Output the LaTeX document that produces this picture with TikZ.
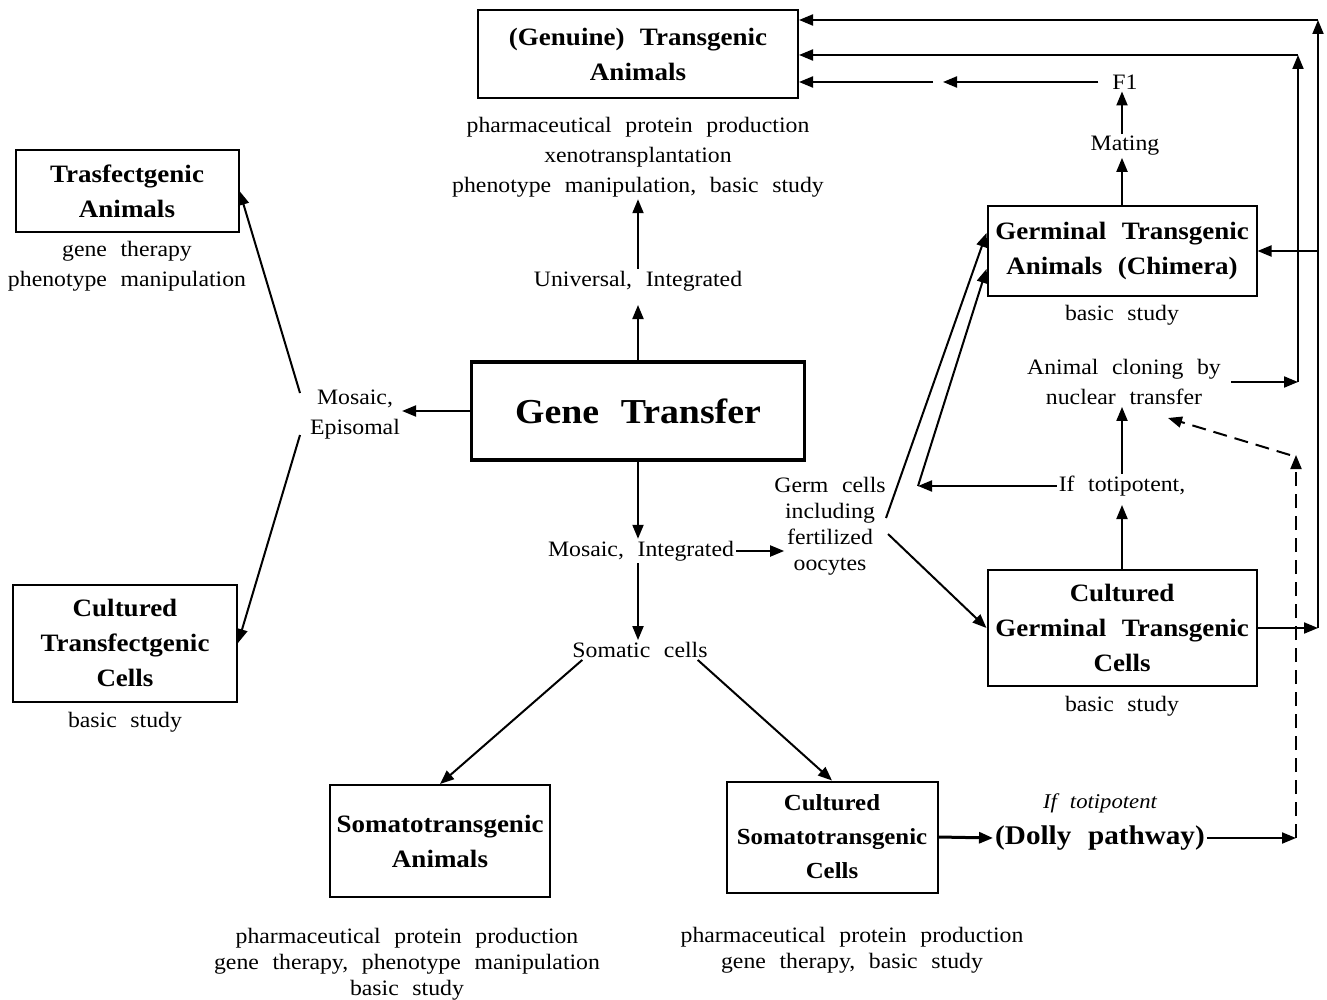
\documentclass[tikz,border=0pt]{standalone}
\usepackage{fontspec}
\setmainfont{Liberation Serif}[FakeStretch=1.08, WordSpace=2.3]
\usetikzlibrary{arrows.meta}

\tikzset{
  box/.style={draw, line width=2pt, align=center, inner sep=2pt,
    font=\bfseries\fontsize{25}{35}\selectfont},
  txt/.style={align=center, inner sep=2pt, font=\fontsize{22}{30}\selectfont},
  txtnarrow/.style={txt, font=\fontsize{22}{26}\selectfont},
  link/.style={line width=2pt, -{Triangle[length=14pt,width=11pt]}},
}

\begin{document}
\begin{tikzpicture}[x=1pt,y=-1pt]

\useasboundingbox (0,0) rectangle (1327,1000);

% boxes
\node [box, minimum width=320pt, minimum height=88pt] (genuine) at (638,54) {(Genuine) Transgenic\\Animals};
\node [box, minimum width=223pt, minimum height=82pt] (trasf) at (127,191) {Trasfectgenic\\Animals};
\node [box, minimum width=224pt, minimum height=117pt] (ctrans) at (125,643) {Cultured\\Transfectgenic\\Cells};
\node [box, line width=3.5pt, minimum width=333pt, minimum height=98pt, font=\bfseries\fontsize{35}{40}\selectfont] (gene) at (638,411) {Gene Transfer};
\node [box, minimum width=269pt, minimum height=89pt] (germ) at (1122,251) {Germinal Transgenic\\Animals (Chimera)};
\node [box, minimum width=269pt, minimum height=116pt] (cgerm) at (1122,628) {Cultured\\Germinal Transgenic\\Cells};
\node [box, minimum width=220pt, minimum height=112pt] (soma) at (440,841) {Somatotransgenic\\Animals};
\node [box, minimum width=211pt, minimum height=111pt, font=\bfseries\fontsize{23}{34}\selectfont] (csoma) at (832,837) {Cultured\\Somatotransgenic\\Cells};

% texts
\node [txt] (genuineuse) at (638,157) {pharmaceutical protein production\\xenotransplantation\\phenotype manipulation, basic study};
\node [txt] (univ) at (638,281) {Universal, Integrated};
\node [txt] (mosepi) at (355,415) {Mosaic,\\Episomal};
\node [txt] (trasfuse) at (127,266) {gene therapy\\phenotype manipulation};
\node [txt] (ctransuse) at (125,722) {basic study};
\node [txt] (mosint) at (641,551) {Mosaic, Integrated};
\node [txtnarrow] (germcells) at (830,526) {Germ cells\\including\\fertilized\\oocytes};
\node [txt] (somatic) at (640,650) {Somatic cells};
\node [txtnarrow] (somause) at (407,964) {pharmaceutical protein production\\gene therapy, phenotype manipulation\\basic study};
\node [txtnarrow] (csomause) at (852,950) {pharmaceutical protein production\\gene therapy, basic study};
\node [txt, font=\itshape\fontsize{21}{30}\selectfont] (iftoti) at (1100,803) {If totipotent};
\node [txt, font=\bfseries\fontsize{27}{30}\selectfont] (dolly) at (1100,838) {(Dolly pathway)};
\node [txt] (germuse) at (1122,315) {basic study};
\node [txt] (cloning) at (1124,382) {Animal cloning by\\nuclear transfer};
\node [txt] (iftot2) at (1122,486) {If totipotent,};
\node [txt] (cgermuse) at (1122,706) {basic study};
\node [txt] (mating) at (1125,146) {Mating};
\node [txt] (f1) at (1125,82) {F1};

% free ends
\coordinate (me1) at (300,393);
\coordinate (me2) at (300,435);
\coordinate (gc1) at (886,518);
\coordinate (gc2) at (888,534);
\coordinate (gcorner) at (918,486);
\coordinate (gap1) at (943,82);
\coordinate (gap2) at (933,82);
\coordinate (oc1) at (1318,628);
\coordinate (oc2) at (1318,20);
\coordinate (ic2) at (1298,55);
\coordinate (dv1) at (1296,838);
\coordinate (dv2) at (1296,455);
\coordinate (cl) at (1168,418);

% centre column
\draw [link] (gene.north) -- (univ.north |- 0,305);
\draw [link] (univ.north) -- (genuineuse.south);
\draw [link] (gene.south) -- (gene.south |- mosint.north);
\draw [link] (gene.south |- mosint.south) -- (gene.south |- somatic.north);
\draw [link] (mosint.east) -- ([xshift=12pt]mosint.east -| germcells.west);

% left side
\draw [link] (gene.west) -- (gene.west -| mosepi.east);
\draw [link] (me1) -- (trasf.east);
\draw [link] (me2) -- (ctrans.east);

% somatic branch
\draw [link] ([xshift=12pt]somatic.south west) -- (soma.north);
\draw [link] ([xshift=-12pt]somatic.south east) -- (csoma.north);
\draw [link, line width=3pt] (csoma.east) -- (dolly.west);
\draw [link] (dolly.east) -- (dv1);
\draw [link, dash pattern=on 14pt off 8pt] (dv1) -- (dv2);
\draw [link, dash pattern=on 14pt off 8pt] ([xshift=-6pt]dv2) -- (cl);

% germ branch
\draw [link] (gc1) -- ([yshift=18pt]germ.west);
\draw [link] (gc2) -- (cgerm.west);
\draw [link] (cgerm.north) -- (cgerm.north |- 0,505);
\draw [link] (cgerm.north |- iftot2.north) -- (cgerm.north |- cloning.south);
\draw [link] (iftot2.west) -- (gcorner);
\draw [link] (gcorner) -- ([yshift=-18pt]germ.west);
\draw [link] (germ.north) -- (germ.north |- mating.south);
\draw [link] (germ.north |- mating.north) -- (germ.north |- f1.south);
\draw [link] ([xshift=-12pt]f1.west) -- (gap1);
\draw [link] (gap2) -- (gap2 -| genuine.east);

% return lines on the right
\draw [link] (cgerm.east) -- (oc1);
\draw [link] (oc1) -- (oc2);
\draw [link] (oc2) -- (oc2 -| genuine.east);
\draw [link] (germ.east -| oc1) -- (germ.east);
\draw [link] ([xshift=8pt]cloning.east) -- (cloning.east -| ic2);
\draw [link] (cloning.east -| ic2) -- (ic2);
\draw [link] (ic2) -- (ic2 -| genuine.east);

\end{tikzpicture}
\end{document}
